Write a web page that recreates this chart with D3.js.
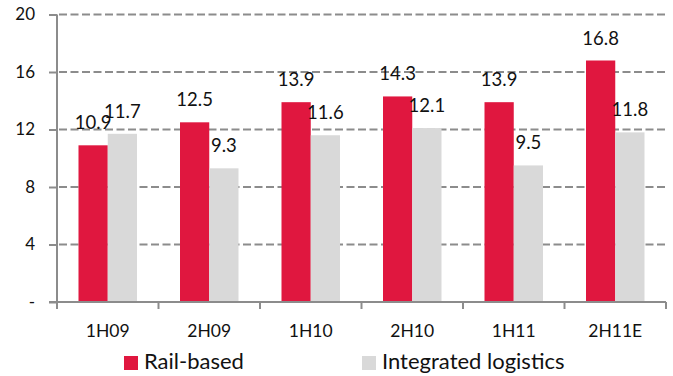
<!DOCTYPE html>
<html>
<head>
<meta charset="utf-8">
<script src="https://cdn.jsdelivr.net/npm/d3@7"></script>
<style>
  html, body { margin: 0; padding: 0; background: #fff; }
  svg text { font-family: Lato, "Open Sans", sans-serif; fill: #111; }
</style>
</head>
<body>
<svg id="chart" width="673" height="376"></svg>
<script>
const categories = ["1H09", "2H09", "1H10", "2H10", "1H11", "2H11E"];
const railBased = [10.9, 12.5, 13.9, 14.3, 13.9, 16.8];
const integratedLogistics = [11.7, 9.3, 11.6, 12.1, 9.5, 11.8];
const seriesNames = ["Rail-based", "Integrated logistics"];
const seriesColors = ["#E0173F", "#D9D9D9"];
const yTicks = [0, 4, 8, 12, 16, 20];

(function () {
const svg = d3.select("#chart");
const pl = 57, pr = 666, pt = 14.5, pb = 302;

const x = d3.scaleBand().domain(categories).range([pl, pr]).padding(0);
const bw = x.bandwidth();
const xs = d3.scaleBand().domain(seriesNames).range([21.5, bw - 21.5]).padding(0);
const y = d3.scaleLinear().domain([0, 20]).range([pb, pt]);
const color = d3.scaleOrdinal().domain(seriesNames).range(seriesColors);

const data = categories.map((c, i) => ({
  cat: c,
  vals: [
    { s: seriesNames[0], v: railBased[i] },
    { s: seriesNames[1], v: integratedLogistics[i] }
  ]
}));

// gridlines
const grid = svg.append("g");
grid.selectAll("line").data(yTicks.filter(t => t > 0)).enter().append("line")
  .attr("x1", pl + 2).attr("x2", pr)
  .attr("y1", d => y(d)).attr("y2", d => y(d))
  .attr("stroke", "#8c8c8c").attr("stroke-width", 2)
  .attr("stroke-dasharray", "8,3.5");

// bars
const groups = svg.append("g").selectAll("g").data(data).enter().append("g")
  .attr("transform", d => `translate(${x(d.cat)},0)`);
groups.selectAll("rect").data(d => d.vals).enter().append("rect")
  .attr("x", d => xs(d.s)).attr("width", xs.bandwidth())
  .attr("y", d => y(d.v)).attr("height", d => y(0) - y(d.v))
  .attr("fill", d => color(d.s));

// y axis
const yAxis = d3.axisLeft(y).tickValues(yTicks).tickSize(8).tickPadding(14)
  .tickFormat(d => d === 0 ? "-" : d);
const gy = svg.append("g").attr("transform", `translate(${pl},0)`).call(yAxis);
gy.select(".domain").attr("stroke", "#8c8c8c").attr("stroke-width", 2)
  .attr("d", `M0,${pt}V${pb}`);
gy.selectAll(".tick line").attr("stroke", "#8c8c8c").attr("stroke-width", 2);
gy.selectAll(".tick text").attr("font-size", 17).attr("font-family", "Lato, sans-serif").attr("fill", "#111");

// x axis
const xAxis = d3.axisBottom(x).tickSize(0).tickPadding(23);
const gx = svg.append("g").attr("transform", `translate(0,${pb})`).call(xAxis);
gx.select(".domain").attr("stroke", "#8c8c8c").attr("stroke-width", 2)
  .attr("d", `M${pl - 8},0H${pr}`);
gx.selectAll(".tick text").attr("font-size", 17.5).attr("font-family", "Lato, sans-serif").attr("fill", "#111");
const bounds = [...categories.map(c => x(c)), pr];
gx.append("g").selectAll("line").data(bounds).enter().append("line")
  .attr("x1", d => d).attr("x2", d => d).attr("y1", 0).attr("y2", 7)
  .attr("stroke", "#8c8c8c").attr("stroke-width", 2);

// data labels
groups.selectAll("text.lbl").data(d => d.vals).enter().append("text")
  .attr("class", "lbl")
  .attr("x", d => xs(d.s) + xs.bandwidth() / 2)
  .attr("y", d => y(d.v) - 16)
  .attr("text-anchor", "middle")
  .attr("font-size", 18.5)
  .text(d => d.v.toFixed(1));

// legend
const legendX = [124, 362];
const leg = svg.append("g").selectAll("g").data(seriesNames).enter().append("g")
  .attr("transform", (d, i) => `translate(${legendX[i]},356)`);
leg.append("rect").attr("width", 14).attr("height", 14).attr("fill", d => color(d));
leg.append("text").attr("x", 20).attr("y", 13).attr("font-size", 22).text(d => d);
})();
</script>
</body>
</html>
